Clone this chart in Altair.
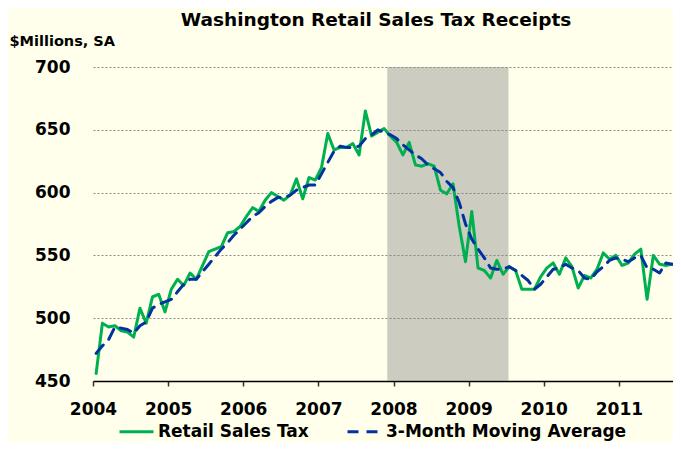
import altair as alt
import pandas as pd

# Monthly data, Jan 2004 - Sep 2011 ($ millions, SA)
start_year = 2004
retail_sales_tax = [
    456, 496, 493, 494, 490, 489, 485, 508, 496, 517, 519, 505,   # 2004
    523, 531, 526, 536, 531, 542, 553, 555, 557, 568, 569, 573,   # 2005
    581, 588, 585, 594, 600, 597, 594, 598, 611, 595, 612, 610,   # 2006
    620, 647, 634, 636, 636, 639, 630, 665, 645, 648, 651, 645,   # 2007
    640, 630, 640, 622, 621, 623, 621, 602, 599, 607, 573, 545,   # 2008
    585, 540, 538, 532, 546, 535, 541, 538, 523, 523, 523, 533,   # 2009
    540, 544, 535, 548, 541, 524, 534, 532, 539, 552, 547, 550,   # 2010
    542, 544, 551, 555, 515, 550, 543, 542, 543,                  # 2011
]
moving_average = [
    472, 478, 483, 493, 492, 491, 488, 494, 497, 508, 511, 513,
    515, 521, 527, 531, 531, 537, 543, 549, 555, 560, 566, 571,
    576, 581, 584, 589, 593, 596, 596, 598, 602, 604, 606, 606,
    615, 624, 633, 637, 636, 636, 637, 643, 646, 650, 648, 646,
    643, 638, 634, 630, 627, 622, 619, 616, 609, 604, 592, 575,
    563, 555, 548, 540, 539, 539, 541, 538, 534, 530, 523, 527,
    533, 539, 540, 543, 540, 538, 532, 531, 537, 541, 546, 548,
    547, 545, 548, 550, 540, 539, 536, 544, 543,
]
series_names = ["Retail Sales Tax", "3-Month Moving Average"]
series_colors = ["#00B050", "#0033A0"]
year_ticks = [2004, 2005, 2006, 2007, 2008, 2009, 2010, 2011]
y_ticks = [450, 500, 550, 600, 650, 700]
recession_start = 2007.917
recession_end = 2009.53

n = len(retail_sales_tax)
t = [start_year + (i + 0.5) / 12 for i in range(n)]
df = pd.DataFrame({
    "t": t + t,
    "value": retail_sales_tax + moving_average,
    "series": [series_names[0]] * n + [series_names[1]] * n,
    "order": [0] * n + [1] * n,
})
band = pd.DataFrame({"start": [recession_start], "end": [recession_end],
                     "top": [700], "bottom": [450]})

FONT = "DejaVu Sans"
x_scale = alt.Scale(domain=[2004, 2011.72], nice=False, zero=False)
y_scale = alt.Scale(domain=[450, 700], nice=False, zero=False)

x_axis = alt.Axis(values=year_ticks, format="d", title=None, grid=False,
                  labelFontSize=17, labelFont=FONT, labelFontWeight="bold",
                  labelColor="black", labelBaseline="alphabetic", labelPadding=28,
                  tickSize=5, tickColor="#333333", tickWidth=1.5,
                  domainColor="black", domainWidth=1.5, labelFlush=False)
y_axis = alt.Axis(values=y_ticks, title="$Millions, SA", titleAngle=0,
                  titleAlign="left", titleBaseline="middle", titleX=-84, titleY=-26,
                  titleFontSize=14.5, titleFont=FONT, titleFontWeight="bold",
                  titleColor="black",
                  labelFontSize=17, labelFont=FONT, labelFontWeight="bold",
                  labelColor="black", labelPadding=23, ticks=False, domain=False,
                  grid=True, gridColor="#8a8a8a", gridDash=[2, 2], gridWidth=1)

legend = alt.Legend(title=None, orient="none", legendX=25, legendY=346,
                    direction="horizontal", symbolType="stroke",
                    symbolSize=1156, symbolStrokeWidth=3,
                    labelFontSize=17, labelFont=FONT, labelLimit=400,
                    labelFontWeight="bold", labelColor="black",
                    labelOffset=3, columnPadding=32, padding=0)

rect = alt.Chart(band).mark_rect(color="#808080", opacity=0.4).encode(
    x=alt.X("start:Q", scale=x_scale, axis=x_axis),
    x2="end:Q",
    y=alt.Y("top:Q", scale=y_scale, axis=y_axis),
    y2="bottom:Q",
)

lines = alt.Chart(df).mark_line(strokeWidth=3, strokeCap="round", strokeJoin="round").encode(
    x=alt.X("t:Q", scale=x_scale, axis=x_axis),
    y=alt.Y("value:Q", scale=y_scale, axis=y_axis),
    color=alt.Color("series:N",
                    scale=alt.Scale(domain=series_names, range=series_colors),
                    sort=series_names, legend=legend),
    strokeDash=alt.StrokeDash("series:N",
                              scale=alt.Scale(domain=series_names, range=[[1, 0], [11, 8]]),
                              sort=series_names, legend=legend),
    order="order:Q",
)

chart = alt.layer(rect, lines).properties(
    width=580, height=314,
    autosize=alt.AutoSizeParams(type="none"),
    padding={"left": 85, "top": 59, "right": 0, "bottom": 61},
    background="#FFFFEB",
    title=alt.TitleParams(text="Washington Retail Sales Tax Receipts", fontSize=18.5,
                          font=FONT, fontWeight="bold", color="black",
                          anchor="middle", frame="group", dx=-7, dy=18, offset=7,
                          baseline="alphabetic"),
).configure_view(stroke=None)

chart.save("out.html", embed_options={"renderer": "svg", "actions": False})
